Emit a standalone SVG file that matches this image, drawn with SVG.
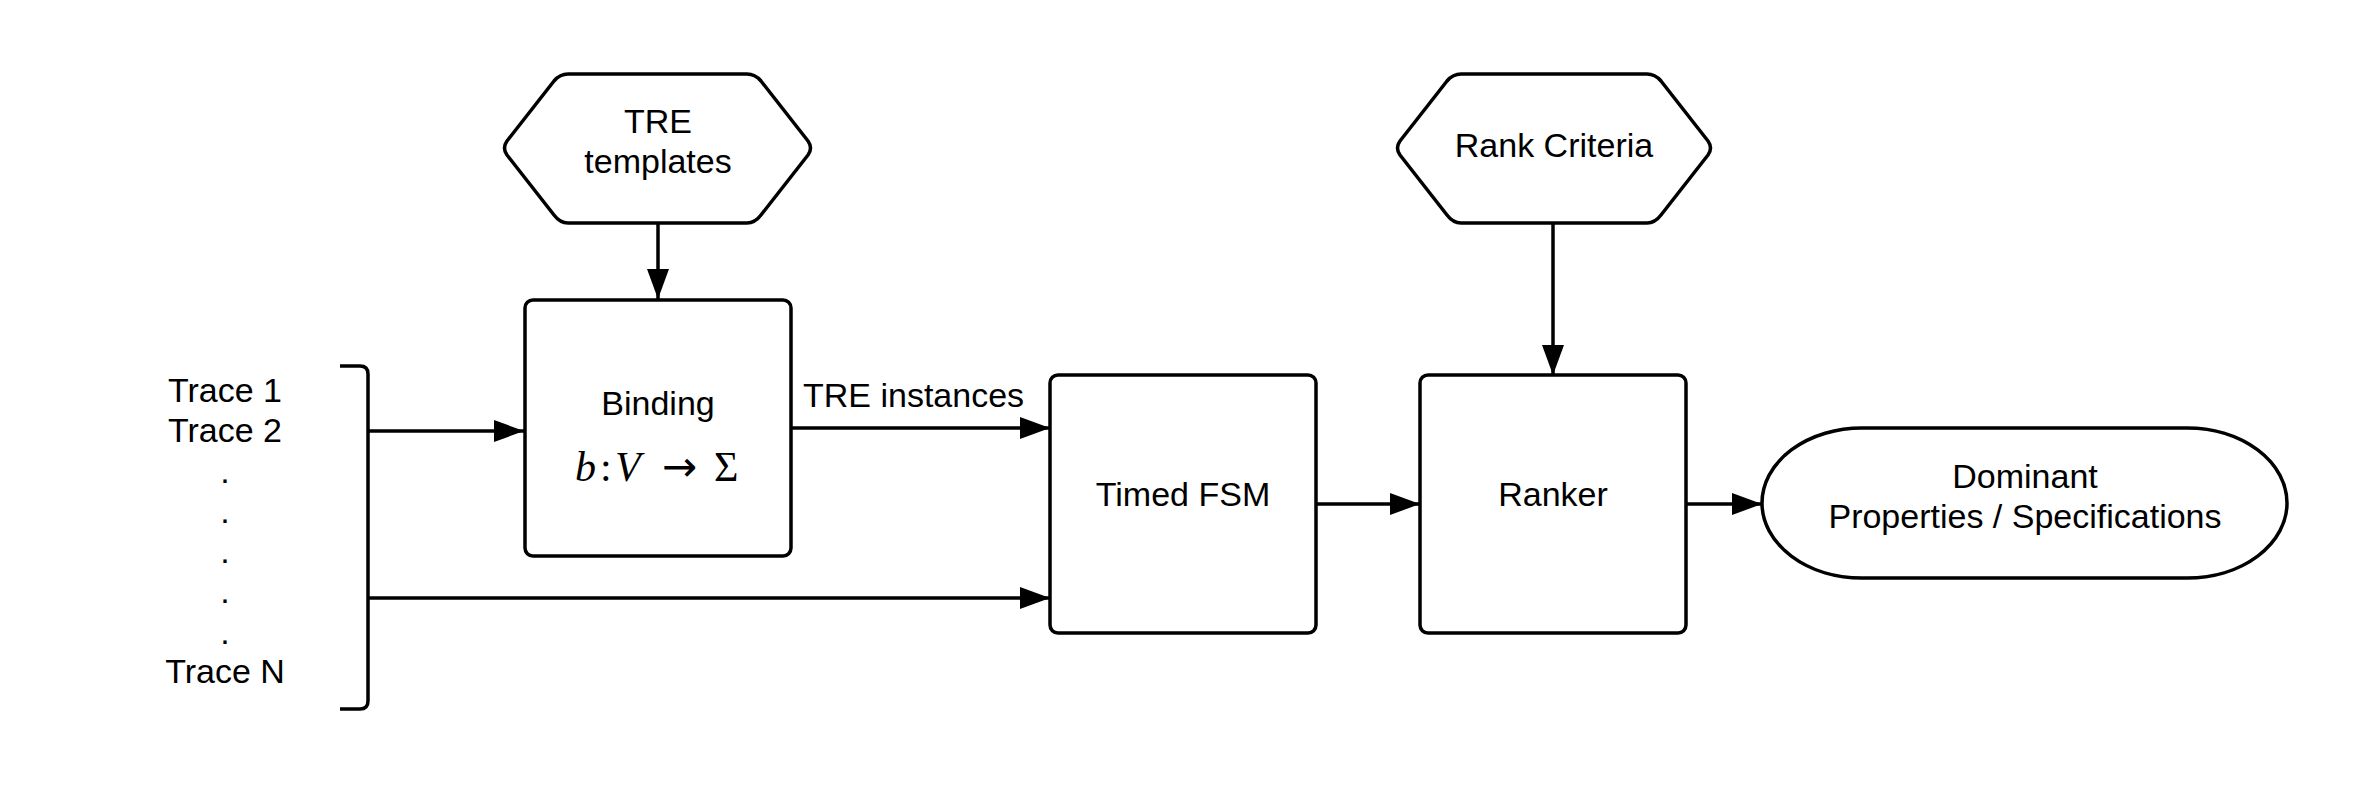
<svg xmlns="http://www.w3.org/2000/svg" width="2362" height="786" viewBox="0 0 2362 786">
<style>
.shape{fill:#fff;stroke:#000;stroke-width:3.5;stroke-linejoin:round}
.conn{fill:none;stroke:#000;stroke-width:3.5}
.t{font-family:"Liberation Sans",Arial,sans-serif;font-size:34px;fill:#000;text-anchor:middle}
.math{font-family:"Liberation Serif","Times New Roman",serif;font-size:42px;fill:#000}
.arrow-glyph{font-family:"DejaVu Sans",sans-serif;font-size:42px}
</style>
<defs>
<marker id="arr" markerUnits="userSpaceOnUse" markerWidth="30" markerHeight="22" refX="30" refY="11" orient="auto">
<path d="M0,0 L30,11 L0,22 Z" fill="#000"/>
</marker>
</defs>
<rect width="2362" height="786" fill="#fff"/>
<g id="connectors">
<path class="conn" d="M340,366 H360 Q368,366 368,374 V701 Q368,709 360,709 H340"/>
<line class="conn" x1="658" y1="224" x2="658" y2="299" marker-end="url(#arr)"/>
<line class="conn" x1="368" y1="431" x2="524" y2="431" marker-end="url(#arr)"/>
<line class="conn" x1="791" y1="428" x2="1050" y2="428" marker-end="url(#arr)"/>
<text class="t" x="803" y="407" style="text-anchor:start">TRE instances</text>
<line class="conn" x1="368" y1="598" x2="1050" y2="598" marker-end="url(#arr)"/>
<line class="conn" x1="1316" y1="504" x2="1420" y2="504" marker-end="url(#arr)"/>
<line class="conn" x1="1553" y1="224" x2="1553" y2="375" marker-end="url(#arr)"/>
<line class="conn" x1="1686" y1="504" x2="1762" y2="504" marker-end="url(#arr)"/>
</g>
<g id="traces">
<text class="t" x="225" y="402">Trace 1</text>
<text class="t" x="225" y="442">Trace 2</text>
<text class="t" x="225" y="483">.</text>
<text class="t" x="225" y="523">.</text>
<text class="t" x="225" y="563">.</text>
<text class="t" x="225" y="603">.</text>
<text class="t" x="225" y="644">.</text>
<text class="t" x="225" y="683">Trace N</text>
</g>
<g id="tre-templates">
<path class="shape" d="M507,141 L554,81 Q560,74 568,74 L747,74 Q755,74 761,81 L808,141 Q813,148 808,155 L761,215 Q755,223 747,223 L568,223 Q560,223 554,215 L507,155 Q502,148 507,141 Z"/>
<text class="t" x="658" y="133">TRE</text>
<text class="t" x="658" y="173">templates</text>
</g>
<g id="binding">
<rect class="shape" x="525" y="300" width="266" height="256" rx="8"/>
<text class="t" x="658" y="415">Binding</text>
<text class="math" y="481"><tspan x="575" font-style="italic">b</tspan><tspan x="600">:</tspan><tspan x="615" font-style="italic">V</tspan><tspan x="662" class="arrow-glyph">→</tspan><tspan x="714">Σ</tspan></text>
</g>
<g id="timed-fsm">
<rect class="shape" x="1050" y="375" width="266" height="258" rx="8"/>
<text class="t" x="1183" y="506">Timed FSM</text>
</g>
<g id="rank-criteria">
<path class="shape" d="M1400,141 L1447,81 Q1453,74 1461,74 L1647,74 Q1655,74 1661,81 L1708,141 Q1713,148 1708,155 L1661,215 Q1655,223 1647,223 L1461,223 Q1453,223 1447,215 L1400,155 Q1395,148 1400,141 Z"/>
<text class="t" x="1554" y="157">Rank Criteria</text>
</g>
<g id="ranker">
<rect class="shape" x="1420" y="375" width="266" height="258" rx="8"/>
<text class="t" x="1553" y="506">Ranker</text>
</g>
<g id="dominant">
<rect class="shape" x="1762" y="428" width="525" height="150" rx="100" ry="75"/>
<text class="t" x="2025" y="488">Dominant</text>
<text class="t" x="2025" y="528">Properties / Specifications</text>
</g>
</svg>
